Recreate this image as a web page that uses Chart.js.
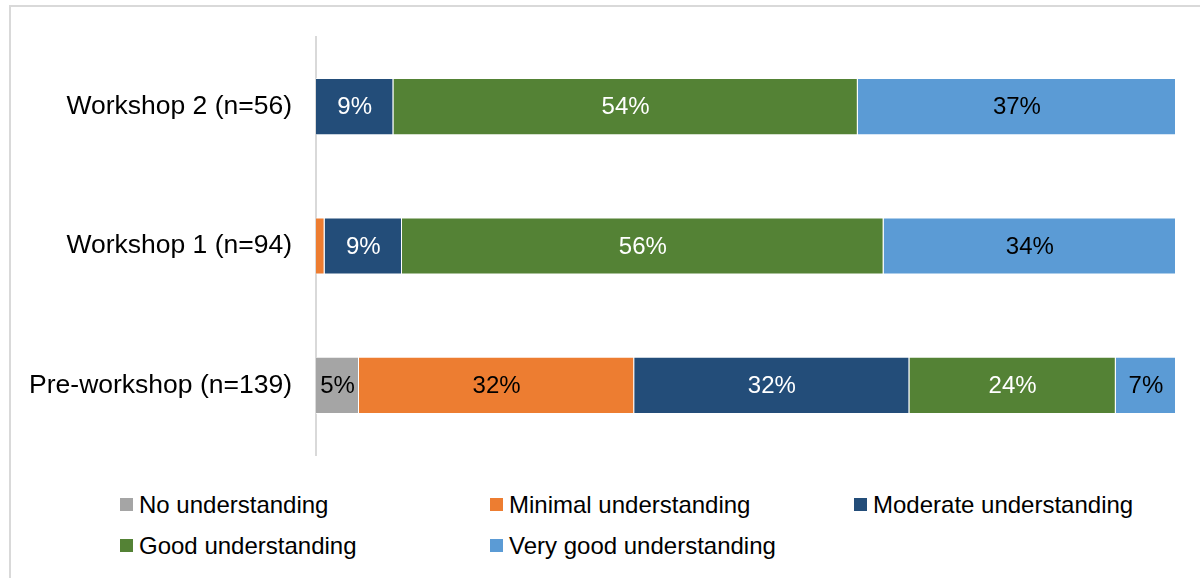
<!DOCTYPE html>
<html>
<head>
<meta charset="utf-8">
<script src="https://cdn.jsdelivr.net/npm/chart.js@4/dist/chart.umd.min.js"></script>
<style>
  body { margin: 0; background: #fff; font-family: "Liberation Sans", Arial, sans-serif; }
  #wrap { position: relative; width: 1200px; height: 578px; overflow: hidden; }
  #frame { position: absolute; left: 9px; top: 5px; width: 1300px; height: 700px;
           border-left: 2px solid #d9d9d9; border-top: 2px solid #d9d9d9; }
  #barChart { position: absolute; left: 0; top: 0; }
  #legend { position: absolute; left: 120px; top: 491px; width: 1080px;
            display: grid; grid-template-columns: 370px 364px 340px; row-gap: 14px; }
  .item { display: flex; align-items: center; font-size: 24px; color: #000; height: 27px; white-space: nowrap; }
  .swatch { width: 13px; height: 13px; margin-right: 6px; flex: none; }
</style>
</head>
<body>
<div id="wrap">
  <div id="frame"></div>
  <canvas id="barChart" width="1200" height="487"></canvas>
  <div id="legend"></div>
</div>
<script>
// survey groups, top to bottom
let groups = ['Workshop 2 (n=56)', 'Workshop 1 (n=94)', 'Pre-workshop (n=139)'];

// share of respondents (%) per understanding level
let levels = ['No understanding', 'Minimal understanding', 'Moderate understanding', 'Good understanding', 'Very good understanding'];
let noUnderstanding       = [0, 0, 5];
let minimalUnderstanding  = [0, 1, 32];
let moderateUnderstanding = [9, 9, 32];
let goodUnderstanding     = [54, 56, 24];
let veryGoodUnderstanding = [37, 34, 7];

let levelColors = ['#a5a5a5', '#ed7d31', '#234d79', '#548235', '#5b9bd5'];
let labelColors = ['#000', '#000', '#fff', '#fff', '#000'];

let levelData = [noUnderstanding, minimalUnderstanding, moderateUnderstanding, goodUnderstanding, veryGoodUnderstanding];

let datasets = [];
for (i = 0; i < levels.length; i++) {
    datasets.push({
        label: levels[i],
        data: levelData[i],
        backgroundColor: levelColors[i],
        borderColor: 'rgba(255,255,255,0.7)',
        borderWidth: 1,
        barPercentage: 0.41,
        categoryPercentage: 1
    });
}

// writes the % value in the middle of each segment (tiny ones are left blank)
const segmentLabels = {
    id: 'segmentLabels',
    afterDatasetsDraw(chart) {
        let ctx = chart.ctx;
        ctx.save();
        ctx.font = '24px "Liberation Sans", Arial, sans-serif';
        ctx.textAlign = 'center';
        ctx.textBaseline = 'middle';
        chart.data.datasets.forEach((ds, d) => {
            chart.getDatasetMeta(d).data.forEach((bar, j) => {
                let v = ds.data[j];
                if (v < 3) return;
                ctx.fillStyle = labelColors[d];
                ctx.fillText(v + '%', (bar.x + bar.base) / 2, bar.y + 1);
            });
        });
        ctx.restore();
    }
};

let barChartCtx = document.getElementById('barChart').getContext('2d');
let barChart = new Chart(barChartCtx, {
    type: 'bar',
    data: { labels: groups, datasets: datasets },
    options: {
        indexAxis: 'y',
        responsive: false,
        animation: false,
        layout: { padding: { top: 37, bottom: 15, right: 24, left: 0 } },
        plugins: { legend: { display: false }, tooltip: { enabled: false } },
        scales: {
            x: { stacked: true, min: 0, max: 100, display: false },
            y: {
                stacked: true,
                grid: { display: false },
                border: { display: true, color: '#d9d9d9', width: 2 },
                ticks: { color: '#000', padding: 16, font: { size: 26.5, family: '"Liberation Sans", Arial, sans-serif' } },
                afterFit(scale) { scale.width = 316; }
            }
        }
    },
    plugins: [segmentLabels]
});

// legend laid out in three columns
let legendEl = document.getElementById('legend');
for (i = 0; i < levels.length; i++) {
    let item = document.createElement('div');
    item.className = 'item';
    item.innerHTML = '<span class="swatch" style="background:' + levelColors[i] + '"></span>' + levels[i];
    legendEl.appendChild(item);
}
</script>
</body>
</html>
